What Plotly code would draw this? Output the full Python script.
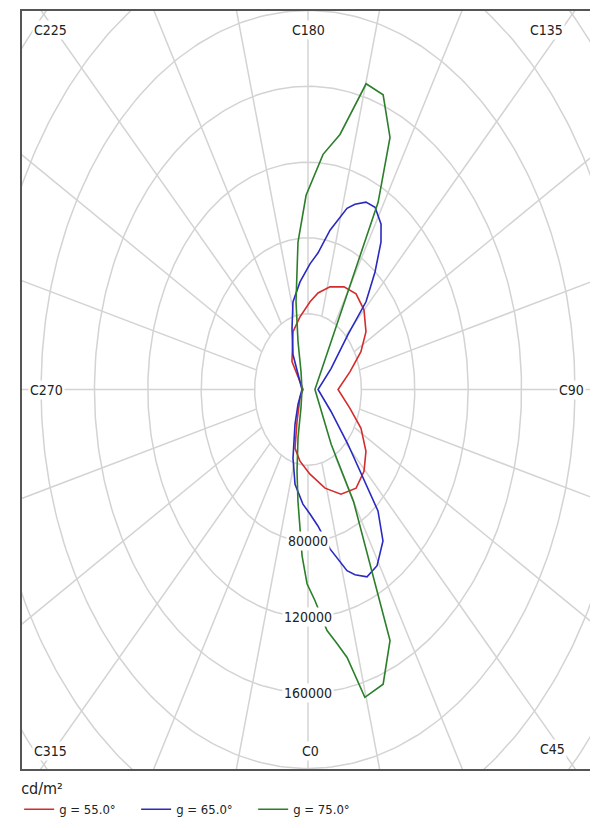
import math
import plotly.graph_objects as go

# C-plane angle (deg) and luminance (cd/m²)
c_55 = [1.9, 13.8, 24.1, 34.7, 44.2, 53.1, 62.7, 72.4, 90, 106.7, 116.7, 125.1, 135.1,
        144.5, 153.5, 163.1, 171.6, 178.1, 188.9, 200.2, 219.2, 235, 270, 305, 333.9,
        342.6, 351]
l_55 = [44700, 53600, 60500, 63300, 60200, 54300, 44700, 33000, 22500, 32900, 44400,
        53100, 59400, 62000, 60500, 56600, 51500, 46300, 38800, 32500, 19000, 7300,
        3700, 7300, 18700, 32500, 38300]

c_65 = [1.3, 5.9, 11.1, 17.0, 19.8, 24.1, 29.1, 35.1, 39.3, 41.4, 46, 56.1, 90, 122.6,
        134, 136.8, 141, 144.9, 147.9, 152.4, 156.3, 160.2, 163, 168.9, 174.1, 178.7,
        186, 193.7, 200.5, 211.4, 223.5, 270, 316.5, 332.1, 342.8, 349, 356.4]
l_65 = [65700, 72400, 85700, 100000, 103900, 108300, 106400, 97700, 82800, 64500,
        41600, 20800, 7500, 20500, 41600, 63500, 79800, 95100, 103000, 108500, 108000,
        103900, 100000, 85700, 72400, 66300, 57100, 47600, 34200, 21600, 10900, 4500,
        10900, 20800, 38000, 50900, 60600]

c_75 = [2.7, 6.4, 9.2, 11.7, 14.7, 19.9, 24.9, 30.0, 31, 90, 152, 155.2, 160.1, 164.9,
        169.9, 174.8, 180.8, 185.5, 191, 196.5, 209, 270, 331, 343.5, 349.2, 352.7,
        357.1, 359.6]
l_75 = [111600, 128000, 135800, 144400, 167900, 165400, 146000, 68300, 33700, 5200,
        111900, 146500, 165400, 167100, 136700, 124600, 102500, 78200, 47100, 26300,
        10800, 4500, 10800, 26300, 43900, 59300, 87900, 102500]

series_names = ["g = 55.0°", "g = 65.0°", "g = 75.0°"]
series_colors = ["#d42c2c", "#2a2ac0", "#2b7f2b"]

grid_radii = [40000, 80000, 120000, 160000, 200000, 240000, 280000, 320000]
radial_labels = [80000, 120000, 160000]
spoke_angles = list(range(0, 360, 15))

# C-plane labels round the frame: text, x, y (paper), xanchor
angle_labels = [
    ("C225", 0.0175, 0.975, "left"),
    ("C180", 0.5026, 0.975, "center"),
    ("C135", 0.951, 0.975, "right"),
    ("C270", 0.0105, 0.5, "left"),
    ("C90", 0.9877, 0.5, "right"),
    ("C315", 0.0175, 0.024, "left"),
    ("C0", 0.5044, 0.024, "center"),
    ("C45", 0.9545, 0.026, "right"),
]

GRID = "#d3d3d3"
FONT = "DejaVu Sans Condensed, DejaVu Sans, sans-serif"


def to_xy(c_deg, lum):
    # C0 points down, C90 right, C180 up
    x = [l * math.sin(math.radians(c)) for c, l in zip(c_deg, lum)]
    y = [-l * math.cos(math.radians(c)) for c, l in zip(c_deg, lum)]
    return x + x[:1], y + y[:1]


fig = go.Figure()

# grid circles
gx, gy = [], []
for r in grid_radii:
    for k in range(361):
        a = math.radians(k)
        gx.append(r * math.sin(a))
        gy.append(-r * math.cos(a))
    gx.append(None)
    gy.append(None)
# spokes
for c in spoke_angles:
    a = math.radians(c)
    gx += [grid_radii[0] * math.sin(a), 400000 * math.sin(a), None]
    gy += [-grid_radii[0] * math.cos(a), -400000 * math.cos(a), None]
fig.add_trace(go.Scatter(x=gx, y=gy, mode="lines", line=dict(color=GRID, width=1.5),
                         hoverinfo="skip", showlegend=False))

for name, color, cs, ls in zip(series_names, series_colors,
                               [c_55, c_65, c_75], [l_55, l_65, l_75]):
    x, y = to_xy(cs, ls)
    fig.add_trace(go.Scatter(x=x, y=y, mode="lines", name=name,
                             line=dict(color=color, width=1.6)))

annotations = []
for text, px, py, anchor in angle_labels:
    annotations.append(dict(x=px, y=py, xref="paper", yref="paper", text=text,
                            xanchor=anchor, yanchor="middle", showarrow=False,
                            bgcolor="white", borderpad=1,
                            font=dict(size=14, color="#222222", family=FONT)))
for r in radial_labels:
    annotations.append(dict(x=0, y=-r, text=str(r), showarrow=False,
                            bgcolor="white", borderpad=1,
                            font=dict(size=14, color="#222222", family=FONT)))

axis_style = dict(showgrid=False, zeroline=False, showticklabels=False, ticks="",
                  showline=True, mirror=True, linecolor="#555555", linewidth=1.5,
                  fixedrange=True)
fig.update_xaxes(range=[-214300, 213550], **axis_style)
fig.update_yaxes(range=[-200250, 199730], **axis_style)

# page body has an 8px margin, so the figure is sized to fit the window
fig.update_layout(
    width=590, height=820,
    margin=dict(l=14, r=5, t=1, b=59),
    plot_bgcolor="white", paper_bgcolor="white",
    annotations=annotations,
    font=dict(family=FONT, color="#222222"),
    legend=dict(orientation="h", x=-0.005, y=-0.006, xanchor="left", yanchor="top",
                title=dict(text="cd/m²", side="top", font=dict(size=16)),
                font=dict(size=13), entrywidth=72, bgcolor="rgba(0,0,0,0)",
                itemwidth=30),
)

fig.write_html("out.html")
